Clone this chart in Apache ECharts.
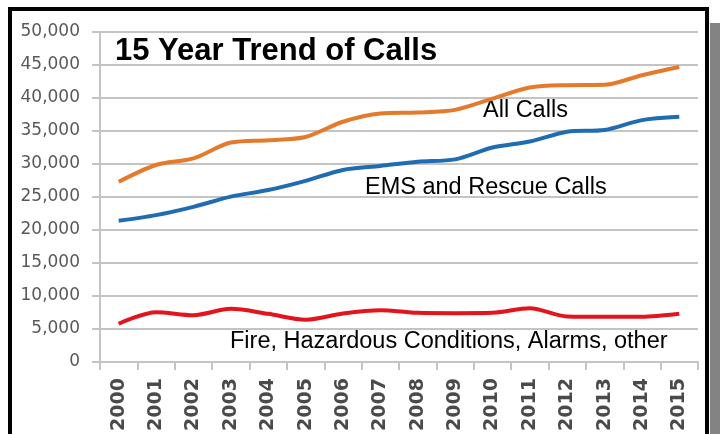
<!DOCTYPE html>
<html>
<head>
<meta charset="utf-8">
<script src="https://cdn.jsdelivr.net/npm/echarts@6/dist/echarts.min.js"></script>
<style>
html,body{margin:0;padding:0;background:#fff;}
#chart{width:720px;height:434px;}
</style>
</head>
<body>
<div id="chart"></div>
<script>
var years = ['2000','2001','2002','2003','2004','2005','2006','2007','2008','2009','2010','2011','2012','2013','2014','2015'];
var allCalls = [27300, 29850, 30850, 33250, 33600, 34100, 36400, 37650, 37800, 38200, 39900, 41600, 41950, 42000, 43450, 44700];
var emsCalls = [21400, 22250, 23500, 25050, 26050, 27450, 29100, 29700, 30350, 30700, 32500, 33400, 34900, 35150, 36650, 37150];
var fireCalls = [5800, 7550, 7100, 8050, 7300, 6400, 7350, 7850, 7450, 7400, 7450, 8150, 6900, 6850, 6850, 7300];

var titleText = '15 Year Trend of Calls';
var allLabel = 'All Calls';
var emsLabel = 'EMS and Rescue Calls';
var fireLabel = 'Fire, Hazardous Conditions, Alarms, other';

var chart = echarts.init(document.getElementById('chart'), null, {renderer:'canvas'});
var gridColor = '#C4C4C4';
var option = {
  animation: false,
  backgroundColor: '#ffffff',
  grid: {left: 100, right: 22, top: 32, bottom: 72, containLabel: false},
  xAxis: {
    type: 'category',
    data: years,
    boundaryGap: true,
    axisLine: {show: true, lineStyle: {color: gridColor, width: 2}},
    axisTick: {show: true, alignWithLabel: false, length: 8, lineStyle: {color: gridColor, width: 2}},
    axisLabel: {rotate: 90, margin: 16, color: '#4a4a4a', fontFamily: 'DejaVu Sans', fontSize: 19, fontWeight: 'bold'},
    splitLine: {show: false}
  },
  yAxis: {
    type: 'value',
    min: 0, max: 50000, interval: 5000,
    axisLine: {show: true, lineStyle: {color: gridColor, width: 2}},
    axisTick: {show: true, length: 8, lineStyle: {color: gridColor, width: 2}},
    axisLabel: {margin: 20, color: '#595959', fontFamily: 'DejaVu Sans', fontSize: 17,
      formatter: function(v){ return v.toLocaleString('en-US'); }},
    splitLine: {show: true, lineStyle: {color: gridColor, width: 2}}
  },
  series: [
    {name: allLabel, type: 'line', data: allCalls, smooth: 0.3, symbol: 'none',
     lineStyle: {color: '#E47B2C', width: 4}, itemStyle: {color: '#E47B2C'}},
    {name: emsLabel, type: 'line', data: emsCalls, smooth: 0.3, symbol: 'none',
     lineStyle: {color: '#1F6CB2', width: 4}, itemStyle: {color: '#1F6CB2'}},
    {name: fireLabel, type: 'line', data: fireCalls, smooth: 0.3, symbol: 'none',
     lineStyle: {color: '#E2141E', width: 4}, itemStyle: {color: '#E2141E'}}
  ],
  graphic: [
    {type: 'rect', shape: {x: 710, y: 23, width: 10, height: 411}, style: {fill: '#838383'}, silent: true},
    {type: 'rect', shape: {x: 10, y: 9, width: 697, height: 460}, style: {fill: 'none', stroke: '#000000', lineWidth: 4}, silent: true},
    {type: 'text', x: 115, y: 36, style: {text: titleText, font: 'bold 31px "Liberation Sans", Arial, sans-serif', fill: '#000', verticalAlign: 'top'}},
    {type: 'text', x: 483, y: 99, style: {text: allLabel, font: '23.5px "Liberation Sans", Arial, sans-serif', fill: '#000', verticalAlign: 'top'}},
    {type: 'text', x: 365, y: 176, style: {text: emsLabel, font: '23.5px "Liberation Sans", Arial, sans-serif', fill: '#000', verticalAlign: 'top'}},
    {type: 'text', x: 230, y: 330, style: {text: fireLabel, font: '23.5px "Liberation Sans", Arial, sans-serif', fill: '#000', verticalAlign: 'top'}}
  ]
};
chart.setOption(option);
</script>
</body>
</html>
